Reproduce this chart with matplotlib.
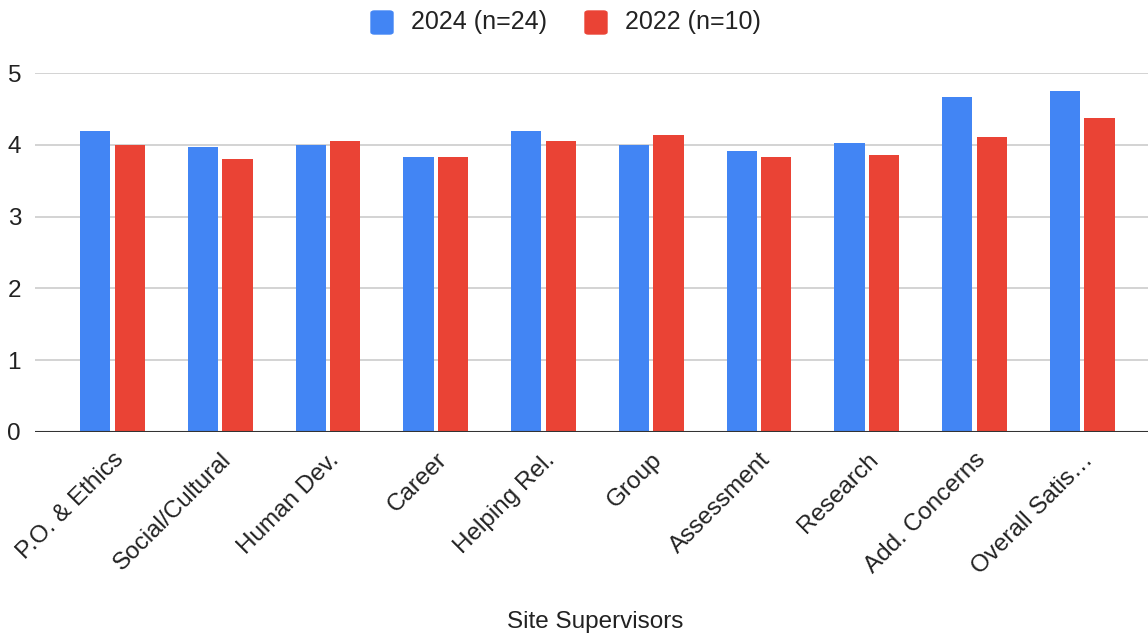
import numpy as np
import matplotlib.pyplot as plt
from matplotlib.patches import FancyBboxPatch

plt.rcParams['font.family'] = ['Liberation Sans', 'DejaVu Sans']

categories = ['P.O. & Ethics', 'Social/Cultural', 'Human Dev.', 'Career', 'Helping Rel.',
              'Group', 'Assessment', 'Research', 'Add. Concerns', 'Overall Satis\u2026']
scores_2024 = [4.19, 3.97, 4.00, 3.83, 4.19, 4.00, 3.91, 4.03, 4.67, 4.75]
scores_2022 = [4.00, 3.80, 4.05, 3.83, 4.05, 4.14, 3.83, 3.86, 4.11, 4.37]
series_names = ['2024 (n=24)', '2022 (n=10)']

BLUE = '#4285f4'
RED = '#ea4335'
TXT = '#222222'

fig = plt.figure(figsize=(11.48, 6.37), dpi=100)
ax = fig.add_axes([35 / 1148, 1 - 432 / 637, 1 - 35 / 1148, (432 - 73) / 637])

x = np.arange(len(categories))
w = 0.28
off = 0.16
ax.bar(x - off, scores_2024, width=w, color=BLUE, zorder=3)
ax.bar(x + off, scores_2022, width=w, color=RED, zorder=3)

ax.set_xlim(-0.72, 9.61)
ax.set_ylim(0, 5)
ax.set_yticks(range(6))
ax.yaxis.grid(True, color='#cccccc', linewidth=1.2, zorder=0)
ax.axhline(0, color='#333333', linewidth=1.5, zorder=4)
for s in ax.spines.values():
    s.set_visible(False)
ax.tick_params(axis='both', length=0, labelsize=17.5, colors=TXT)
ax.tick_params(axis='y', pad=10)

ax.set_xticks(x)
ax.set_xticklabels(categories, rotation=45, ha='right', rotation_mode='anchor')
ax.tick_params(axis='x', pad=12)
fig.text(595 / 1148, 1 - 622 / 637, 'Site Supervisors', fontsize=17.5, color=TXT,
         ha='center', va='center')

# legend drawn by hand: rounded swatches and labels centered on top
legend_items = [(371, BLUE, series_names[0]), (585, RED, series_names[1])]
for px, col, txt in legend_items:
    fig.patches.append(FancyBboxPatch((px / 1148, 1 - 34 / 637), 22 / 1148, 23 / 637,
                                      boxstyle='round,pad=0,rounding_size=0.003',
                                      transform=fig.transFigure, color=col))
    fig.text((px + 40) / 1148, 1 - 22 / 637, txt, fontsize=18, color=TXT,
             va='center', ha='left')

fig.savefig('out.png', dpi=100)
